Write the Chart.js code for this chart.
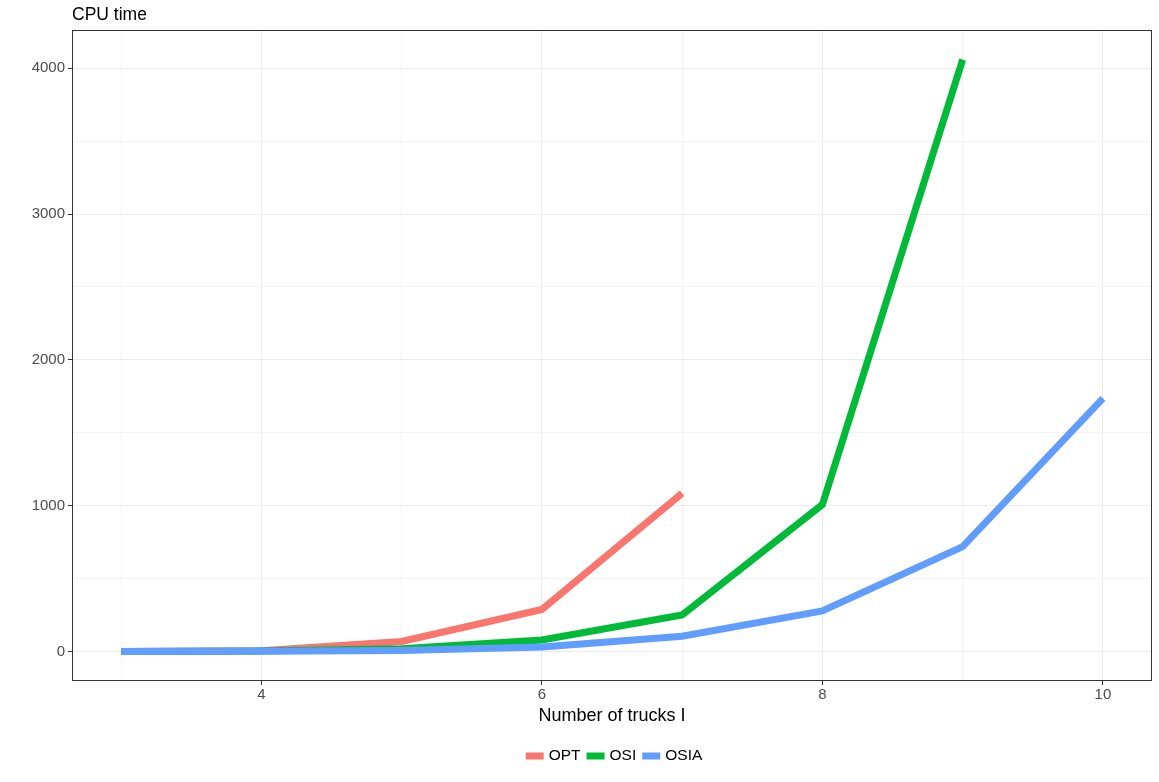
<!DOCTYPE html>
<html>
<head>
<meta charset="utf-8">
<script src="https://cdn.jsdelivr.net/npm/chart.js@4"></script>
<style>
  html, body { margin: 0; padding: 0; background: #fff; }
  #wrap { width: 1159px; height: 782px; }
</style>
</head>
<body>
<div id="wrap"><canvas id="cpuChart"></canvas></div>
<script>
// values
var trucks = [3, 4, 5, 6, 7, 8, 9, 10];
var optTime = [0, 5, 68, 288, 1085];
var osiTime = [0, 2, 18, 78, 250, 1007, 4060];
var osiaTime = [0, 1, 6, 30, 104, 278, 719, 1736];
var xTicks = [3, 4, 5, 6, 7, 8, 9, 10];
var xLabels = [4, 6, 8, 10];
var yTicks = [0, 500, 1000, 1500, 2000, 2500, 3000, 3500, 4000];
var yLabels = [0, 1000, 2000, 3000, 4000];

var seriesNames = ['OPT', 'OSI', 'OSIA'];
var seriesColors = ['#F8766D', '#00BA38', '#619CFF'];

function toPoints(values) {
    return values.map(function (v, i) {
        return { x: trucks[i], y: v };
    });
}

var FONT = "'Liberation Sans', Arial, sans-serif";

// panel border, title and ggplot-like legend
var panelPlugin = {
    id: 'panel',
    afterDraw: function (chart) {
        var a = chart.chartArea;
        var c = chart.ctx;
        c.save();
        c.strokeStyle = '#333333';
        c.lineWidth = 1;
        c.strokeRect(a.left + 0.5, a.top + 0.5, a.right - a.left - 1, a.bottom - a.top - 1);

        c.fillStyle = '#000';
        c.font = '17.5px ' + FONT;
        c.textAlign = 'left';
        c.textBaseline = 'alphabetic';
        c.fillText('CPU time', a.left, a.top - 10);

        // legend
        c.font = '15.5px ' + FONT;
        c.textBaseline = 'middle';
        var keyW = 18, keyGap = 5, itemGap = 6;
        var items = chart.data.datasets.map(function (ds) {
            return { label: ds.label, color: ds.borderColor, w: c.measureText(ds.label).width };
        });
        var total = 0;
        items.forEach(function (it, i) {
            total += keyW + keyGap + it.w + (i < items.length - 1 ? itemGap : 0);
        });
        var x = (a.left + a.right) / 2 - total / 2 + 2;
        var y = 756;
        items.forEach(function (it) {
            c.fillStyle = it.color;
            c.fillRect(x, y - 3.5, keyW, 7);
            c.fillStyle = '#000';
            c.fillText(it.label, x + keyW + keyGap, y);
            x += keyW + keyGap + it.w + itemGap;
        });
        c.restore();
    }
};

var ctx = document.getElementById('cpuChart').getContext('2d');
var drawOrder = [2, 1, 0];
var datasets = [optTime, osiTime, osiaTime].map(function (vals, i) {
    return {
        label: seriesNames[i],
        data: toPoints(vals),
        borderColor: seriesColors[i],
        backgroundColor: seriesColors[i],
        borderWidth: 7,
        borderCapStyle: 'butt',
        borderJoinStyle: 'miter',
        pointRadius: 0,
        tension: 0,
        order: drawOrder[i]
    };
});

new Chart(ctx, {
    type: 'line',
    data: { datasets: datasets },
    options: {
        responsive: true,
        maintainAspectRatio: false,
        animation: false,
        layout: { padding: { top: 30, right: 7, left: 0, bottom: 55 } },
        plugins: {
            tooltip: { enabled: false },
            legend: { display: false }
        },
        scales: {
            x: {
                type: 'linear',
                min: 2.65,
                max: 10.35,
                afterBuildTicks: function (scale) {
                    scale.ticks = xTicks.map(function (v) { return { value: v }; });
                },
                afterFit: function (scale) { scale.height = 46; },
                ticks: {
                    color: '#4d4d4d',
                    font: { family: FONT, size: 15 },
                    padding: 1,
                    maxRotation: 0,
                    autoSkip: false,
                    callback: function (v) { return xLabels.indexOf(v) >= 0 ? String(v) : ''; }
                },
                grid: {
                    color: function (c) { return xLabels.indexOf(c.tick && c.tick.value) >= 0 ? '#ebebeb' : '#f4f4f4'; },
                    tickColor: function (c) { return xLabels.indexOf(c.tick && c.tick.value) >= 0 ? '#333333' : 'rgba(0,0,0,0)'; },
                    tickLength: 4
                },
                border: { display: false },
                title: {
                    display: true,
                    text: 'Number of trucks I',
                    color: '#000',
                    font: { family: FONT, size: 18 },
                    padding: { top: 3, bottom: 0 }
                }
            },
            y: {
                min: -203,
                max: 4263,
                afterBuildTicks: function (scale) {
                    scale.ticks = yTicks.map(function (v) { return { value: v }; });
                },
                afterFit: function (scale) { scale.width = 72; },
                ticks: {
                    color: '#4d4d4d',
                    font: { family: FONT, size: 15 },
                    padding: 3,
                    autoSkip: false,
                    callback: function (v) { return yLabels.indexOf(v) >= 0 ? String(v) : ''; }
                },
                grid: {
                    color: function (c) { return yLabels.indexOf(c.tick && c.tick.value) >= 0 ? '#ebebeb' : '#f4f4f4'; },
                    tickColor: function (c) { return yLabels.indexOf(c.tick && c.tick.value) >= 0 ? '#333333' : 'rgba(0,0,0,0)'; },
                    tickLength: 4
                },
                border: { display: false }
            }
        }
    },
    plugins: [panelPlugin]
});
</script>
</body>
</html>
